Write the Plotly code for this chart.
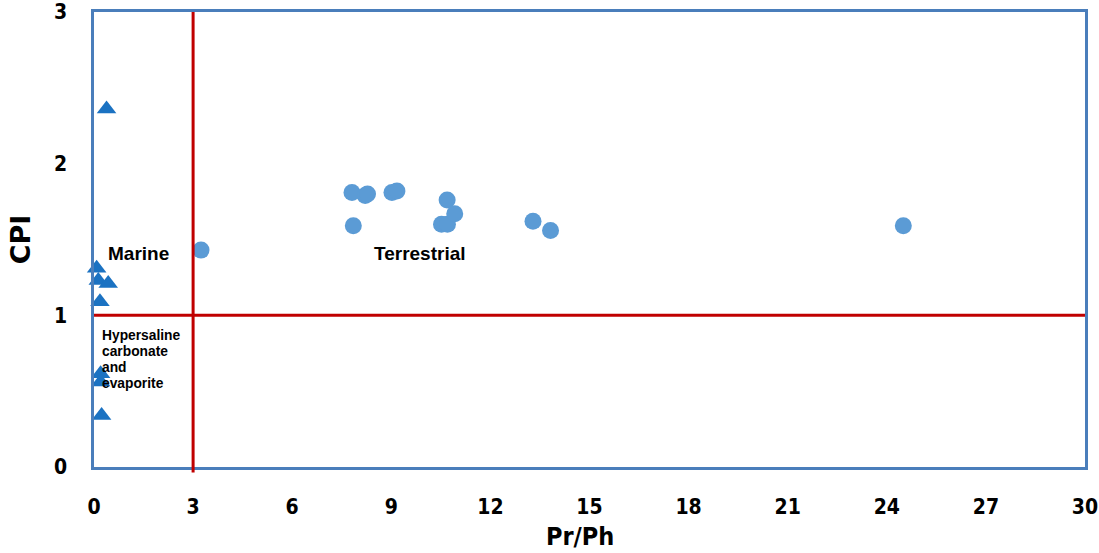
import plotly.graph_objects as go

# Terrestrial / mixed samples (circles)
circle_prph = [3.24, 7.81, 7.85, 8.21, 8.28, 9.02, 9.17, 10.52, 10.70, 10.69, 10.92, 13.29, 13.82, 24.5]
circle_cpi = [1.43, 1.81, 1.59, 1.79, 1.80, 1.81, 1.82, 1.60, 1.60, 1.76, 1.67, 1.62, 1.56, 1.59]

# Marine / hypersaline samples (triangles)
tri_prph = [0.38, 0.08, 0.13, 0.43, 0.18, 0.20, 0.20, 0.23]
tri_cpi = [2.36, 1.31, 1.23, 1.21, 1.09, 0.615, 0.56, 0.34]

x_ticks = [0, 3, 6, 9, 12, 15, 18, 21, 24, 27, 30]
y_ticks = [0, 1, 2, 3]

# Boundary values separating the depositional fields
prph_cut = 3
cpi_cut = 1

# Field labels
hyper_lines = ["Hypersaline", "carbonate", "and", "evaporite"]

fig = go.Figure()

fig.add_trace(go.Scatter(
    x=circle_prph, y=circle_cpi, mode="markers",
    marker=dict(symbol="circle", size=17, color="#5B9BD5"),
    showlegend=False, cliponaxis=False,
))
fig.add_trace(go.Scatter(
    x=tri_prph, y=tri_cpi, mode="markers",
    marker=dict(symbol="triangle-up", size=17, color="#1B72C2"),
    showlegend=False, cliponaxis=False,
))

red = "#C00000"
fig.add_shape(type="line", xref="x", yref="y", x0=0, x1=30, y0=cpi_cut, y1=cpi_cut,
              line=dict(color=red, width=3))
fig.add_shape(type="line", xref="x", yref="paper", x0=prph_cut, x1=prph_cut, y0=-0.012, y1=1,
              line=dict(color=red, width=3))

label_font = dict(family="Liberation Sans, Arial, sans-serif", color="black")
fig.add_annotation(x=0.36, y=1.41, text="<b>Marine</b>", showarrow=False, xanchor="left",
                   font=dict(size=19, **label_font))
fig.add_annotation(x=8.42, y=1.41, text="<b>Terrestrial</b>", showarrow=False, xanchor="left",
                   font=dict(size=19, **label_font))
for i, line in enumerate(hyper_lines):
    fig.add_annotation(x=0.18, y=0.864 - i * 0.104, text=f"<b>{line}</b>", showarrow=False,
                       xanchor="left", yanchor="middle", font=dict(size=13.8, **label_font))

# x-axis title, set slightly left of the plot centre
fig.add_annotation(xref="paper", yref="paper", x=0.49, y=-0.152, text="<b>Pr/Ph</b>",
                   showarrow=False, xanchor="center", yanchor="middle",
                   font=dict(family="DejaVu Sans Condensed, sans-serif", size=25, color="black"))

tick_font = dict(family="DejaVu Sans Condensed, Open Sans, sans-serif", size=21, color="black")
frame = "#4A7EBB"

fig.update_xaxes(
    range=[0, 30], tickvals=x_ticks, ticktext=[f"<b>{v}</b>" for v in x_ticks],
    tickfont=tick_font, showgrid=False, zeroline=False, automargin=False,
    showline=True, mirror=True, linecolor=frame, linewidth=2.5,
    ticks="outside", ticklen=0, ticklabelstandoff=19,
)
fig.update_yaxes(
    range=[0, 3], tickvals=y_ticks, ticktext=[f"<b>{v}</b>" for v in y_ticks],
    tickfont=tick_font, showgrid=False, zeroline=False, automargin=False,
    showline=True, mirror=True, linecolor=frame, linewidth=2.5,
    ticks="outside", ticklen=0, ticklabelstandoff=20,
    title=dict(text="<b>CPI</b>", font=dict(family="DejaVu Sans, sans-serif", size=27, color="black"),
               standoff=16),
)

fig.update_layout(
    width=1099, height=553,
    margin=dict(l=94, r=14, t=12, b=86),
    plot_bgcolor="white", paper_bgcolor="white",
)

fig.write_html("out.html")
